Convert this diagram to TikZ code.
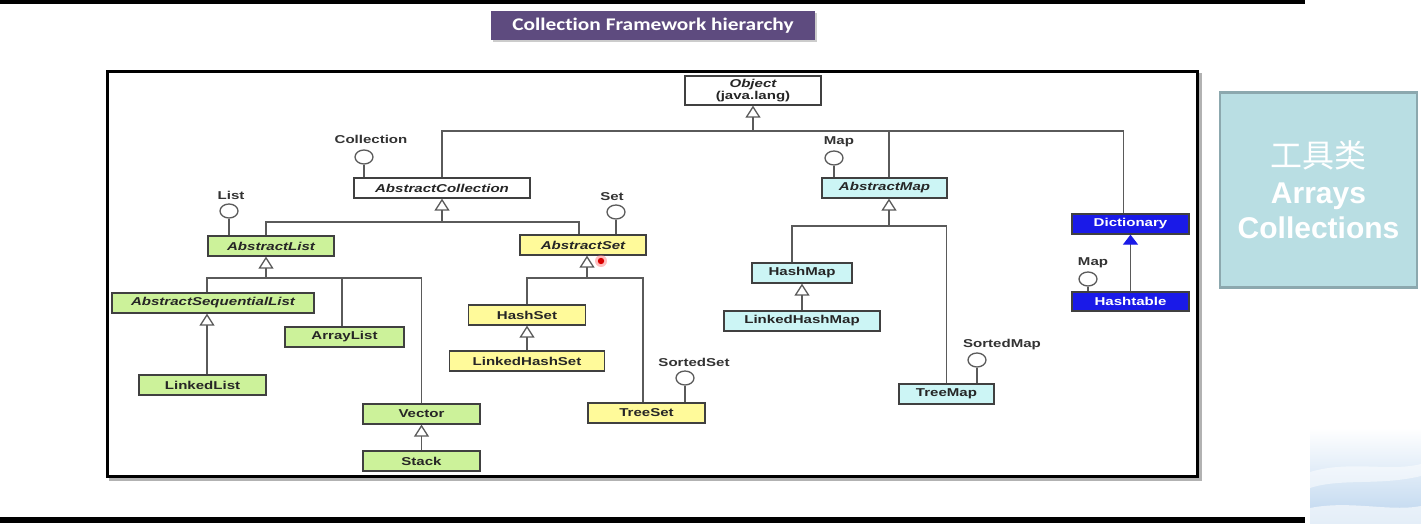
\documentclass[tikz,border=0pt]{standalone}
\usepackage{fontspec}
\usepackage{graphicx}
\usetikzlibrary{arrows.meta,calc,shadows,shapes.geometric}
\newfontfamily\umlfont[FakeStretch=1.32]{Liberation Sans}
\newfontfamily\titlefont[FakeStretch=1.2,Ligatures=NoCommon]{Carlito}
\newfontfamily\slidefont{Liberation Sans}
\newfontfamily\cjkfont{Noto Sans CJK SC}
\newcommand\uf{\umlfont\fontsize{11.4}{12}\selectfont}
\definecolor{clsgreen}{HTML}{CCF29A}
\definecolor{clsyellow}{HTML}{FFFA9A}
\definecolor{clscyan}{HTML}{CCF5F5}
\definecolor{clsblue}{HTML}{1A1AE8}
\definecolor{boxgray}{HTML}{404040}
\definecolor{linegray}{HTML}{5A5A5A}
\definecolor{titlepurple}{HTML}{5E4B7F}
\definecolor{toolfill}{HTML}{B9DEE3}
\definecolor{tooldraw}{HTML}{8CA8AE}
\definecolor{cloudblue}{HTML}{BCD5EE}
\tikzset{
  cls/.style={draw=boxgray, line width=1.3pt, minimum height=20pt, inner sep=0pt, font=\uf\bfseries, text=black!85},
  abs/.style={cls, font=\uf\bfseries\itshape},
  conn/.style={draw=linegray, line width=1.3pt},
  inh/.style={conn, -{Triangle[open, length=12pt, width=15pt]}},
  inhblue/.style={conn, -{Triangle[length=10pt, width=15pt, color=clsblue]}},
  lolli/.style={ellipse, draw=linegray, line width=1.3pt, fill=white, minimum width=18pt, minimum height=14pt, inner sep=0pt},
  lbl/.style={font=\uf\bfseries, text=black!80, inner sep=0pt},
  titlebox/.style={fill=titlepurple, text=white, font=\titlefont\bfseries\fontsize{17.8}{20}\selectfont, minimum width=324pt, minimum height=29pt, inner sep=0pt, drop shadow={shadow xshift=2pt, shadow yshift=-2pt, opacity=0.4}},
  toolbox/.style={fill=toolfill, draw=tooldraw, line width=2.5pt, minimum width=197pt, minimum height=195pt, inner sep=0pt, align=center, text=white, font=\slidefont\bfseries\fontsize{30}{35.5}\selectfont}
}
\begin{document}
\begin{tikzpicture}[x=1pt,y=-1pt]
\useasboundingbox (0,0) rectangle (1421,524);
\fill[white] (0,0) rectangle (1421,524);
\fill[black] (0,0) rectangle (1305,4);
\fill[black] (0,517) rectangle (1305,523);
% cloud decoration
\shade[top color=white, bottom color=cloudblue] (1310,428) rectangle (1421,524);
\fill[white, opacity=0.5] (1310,472) .. controls (1350,460) and (1390,472) .. (1421,464) -- (1421,476) .. controls (1380,486) and (1340,478) .. (1310,488) -- cycle;
\fill[white, opacity=0.6] (1310,508) .. controls (1350,500) and (1390,512) .. (1421,506) -- (1421,524) -- (1310,524) -- cycle;
% title
\node[titlebox] (title) at (653,25.5) {Collection Framework hierarchy};
% frame
\draw[gray!60, line width=3pt] (110,75) rectangle (1200,479);
\fill[white] (107,72) rectangle (1197,476);
\draw[black, line width=3pt] (107,72) rectangle (1197,476);
% tools box
\node[toolbox] (tools) at (1318.5,190) {{\cjkfont\mdseries\fontsize{32}{35.5}\selectfont 工具类}\\Arrays\\Collections};
% classes
\node[cls, fill=white, minimum width=136pt, minimum height=29pt, align=center] (object) at (753,90.5) {{\itshape Object}\\(java.lang)};
\node[abs, fill=white, minimum width=176pt] (acoll) at (442,188) {AbstractCollection};
\node[abs, fill=clsgreen, minimum width=126pt] (alist) at (271,246) {AbstractList};
\node[abs, fill=clsyellow, minimum width=126pt] (aset) at (583,245) {AbstractSet};
\node[abs, fill=clsgreen, minimum width=202pt] (aseq) at (213,303) {AbstractSequentialList};
\node[cls, fill=clsgreen, minimum width=119pt] (alst) at (344.5,337) {ArrayList};
\node[cls, fill=clsgreen, minimum width=127pt] (llist) at (202.5,385) {LinkedList};
\node[cls, fill=clsgreen, minimum width=117pt] (vector) at (421.5,414) {Vector};
\node[cls, fill=clsgreen, minimum width=117pt] (stack) at (421.5,461) {Stack};
\node[cls, fill=clsyellow, minimum width=117pt] (hset) at (527,315) {HashSet};
\node[cls, fill=clsyellow, minimum width=155pt] (lhset) at (527,361) {LinkedHashSet};
\node[cls, fill=clsyellow, minimum width=117pt] (tset) at (646.5,413) {TreeSet};
\node[abs, fill=clscyan, minimum width=125pt] (amap) at (884.5,188) {AbstractMap};
\node[cls, fill=clscyan, minimum width=100pt] (hmap) at (802,273) {HashMap};
\node[cls, fill=clscyan, minimum width=156pt] (lhmap) at (802,321) {LinkedHashMap};
\node[cls, fill=clscyan, minimum width=95pt] (tmap) at (946.5,394) {TreeMap};
\node[cls, fill=clsblue, text=white, minimum width=117pt] (dict) at (1130.5,224) {Dictionary};
\node[cls, fill=clsblue, text=white, minimum width=117pt, minimum height=19pt] (htable) at (1130.5,301.5) {Hashtable};
% junctions
\coordinate (j1) at (753,131);
\coordinate (j2) at (442,222);
\coordinate (j3) at (266,278);
\coordinate (j4) at (587,278);
\coordinate (j5) at (889,226);
\coordinate (amapTop) at ([xshift=4.5pt]amap.north);
\coordinate (alstTop) at ([xshift=-2.5pt]alst.north);
% inheritance
\draw[inh] (j1) -- (object.south);
\draw[conn] (acoll.north) |- (j1) -| ([xshift=-7pt]dict.north);
\draw[conn] (amapTop) |- (j1);
\draw[inh] (j2) -- (acoll.south);
\draw[conn] ([xshift=-5pt]alist.north) |- (j2) -| ([xshift=-4pt]aset.north);
\draw[inh] (j3) -- ([xshift=-5pt]alist.south);
\draw[conn] ([xshift=-6pt]aseq.north) |- (j3) -| (vector.north);
\draw[conn] (alstTop) |- (j3);
\draw[inh] ([xshift=4.5pt]llist.north) -- ([xshift=-6pt]aseq.south);
\draw[inh] (stack.north) -- (vector.south);
\draw[inh] (j4) -- ([xshift=4pt]aset.south);
\draw[conn] (hset.north) |- (j4) -| ([xshift=-3.5pt]tset.north);
\draw[inh] (lhset.north) -- (hset.south);
\draw[inh] (j5) -- ([xshift=4.5pt]amap.south);
\draw[conn] ([xshift=-10pt]hmap.north) |- (j5) -| (tmap.north);
\draw[inh] (lhmap.north) -- (hmap.south);
\draw[inhblue] (htable.north) -- (dict.south);
% interfaces (lollipops)
\node[lolli] (iColl) at (364,157) {};
\node[lbl] (lColl) at (371,139) {Collection};
\draw[conn] (iColl.south) -- (iColl.south |- acoll.north);
\node[lolli] (iList) at (229,211) {};
\node[lbl] (lList) at (231,195) {List};
\draw[conn] (iList.south) -- (iList.south |- alist.north);
\node[lolli] (iSet) at (616,212) {};
\node[lbl] (lSet) at (612,197) {Set};
\draw[conn] (iSet.south) -- (iSet.south |- aset.north);
\node[lolli] (iSSet) at (685,378) {};
\node[lbl] (lSSet) at (694,362) {SortedSet};
\draw[conn] (iSSet.south) -- (iSSet.south |- tset.north);
\node[lolli] (iMap) at (834,158) {};
\node[lbl] (lMap) at (839,142) {Map};
\draw[conn] (iMap.south) -- (iMap.south |- amap.north);
\node[lolli] (iSMap) at (977,360) {};
\node[lbl] (lSMap) at (1002,345) {SortedMap};
\draw[conn] (iSMap.south) -- (iSMap.south |- tmap.north);
\node[lolli] (iMap2) at (1088,279) {};
\node[lbl] (lMap2) at (1093,263) {Map};
\draw[conn] (iMap2.south) -- (iMap2.south |- htable.north);
% pointer highlight
\fill[red!50, opacity=0.5] (601,261) circle (6);
\fill[red!85!black] (601,261) circle (3.2);
\end{tikzpicture}
\end{document}
